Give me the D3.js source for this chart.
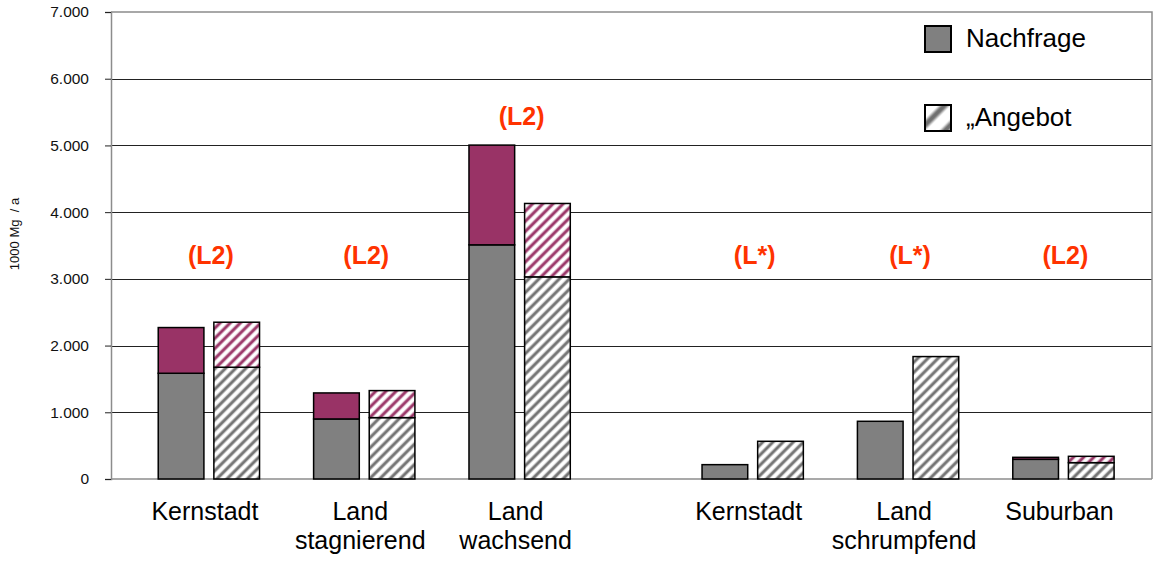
<!DOCTYPE html>
<html>
<head>
<meta charset="utf-8">
<script src="https://cdn.jsdelivr.net/npm/d3@7"></script>
<style>
  html, body { margin: 0; padding: 0; background: #fff; }
  svg { display: block; font-family: "Liberation Sans", Arial, sans-serif; }
</style>
</head>
<body>
<svg id="chart" width="1154" height="563"></svg>
<script>
// Category labels (split into lines) and the region class shown above each group
const categories = [
  ["Kernstadt"],
  ["Land", "stagnierend"],
  ["Land", "wachsend"],
  ["Kernstadt"],
  ["Land", "schrumpfend"],
  ["Suburban"]
];
const regionTags = ["(L2)", "(L2)", "(L2)", "(L*)", "(L*)", "(L2)"];

// Nachfrage: grey base part and purple upper part (1000 Mg / a)
const nachfrageBase  = [1585, 900, 3510, 215, 865, 295];
const nachfrageExtra = [685, 390, 1495, 0, 0, 30];
// Angebot: hatched grey base part and hatched purple upper part
const angebotBase  = [1675, 920, 3030, 565, 1835, 245];
const angebotExtra = [675, 405, 1100, 0, 0, 95];

const yTicks = [0, 1000, 2000, 3000, 4000, 5000, 6000, 7000];
const legendItems = ["Nachfrage", "\u201EAngebot"];

(function () {
  const svg = d3.select("#chart");
  const plotL = 111, plotR = 1152, plotT = 12, plotB = 479;

  const y = d3.scaleLinear().domain([0, 7000]).range([plotB, plotT]);
  // groups 4-6 are set apart from groups 1-3 by an extra half step
  const slot = i => i + (i >= 3 ? 0.5 : 0);
  const x = d3.scaleLinear().domain([-0.63, 6.07]).range([plotL, plotR]);
  const step = x(1) - x(0);
  const barW = step * 0.294;
  const innerGap = step * 0.064;

  const grey = "#808080", purple = "#993366", tagColor = "#FF3300";

  // hatch patterns
  const defs = svg.append("defs");
  function stripeGradient(id, color) {
    const g = defs.append("linearGradient").attr("id", id)
      .attr("x1", 0).attr("x2", 1).attr("y1", 0).attr("y2", 0);
    g.append("stop").attr("offset", "0%").attr("stop-color", "#fff");
    g.append("stop").attr("offset", "35%").attr("stop-color", color);
    g.append("stop").attr("offset", "65%").attr("stop-color", color);
    g.append("stop").attr("offset", "100%").attr("stop-color", "#fff");
  }
  stripeGradient("gradGrey", "#707070");
  stripeGradient("gradPurple", purple);
  function hatch(id, grad, size, stripe) {
    const p = defs.append("pattern").attr("id", id)
      .attr("patternUnits", "userSpaceOnUse")
      .attr("width", size).attr("height", size)
      .attr("patternTransform", "rotate(45)");
    p.append("rect").attr("width", size).attr("height", size).attr("fill", "#fff");
    p.append("rect").attr("x", 0).attr("width", stripe).attr("height", size)
      .attr("fill", `url(#${grad})`);
  }
  hatch("hatchGrey", "gradGrey", 7.2, 4.6);
  hatch("hatchPurple", "gradPurple", 7.2, 4.6);
  hatch("hatchLegend", "gradGrey", 18, 9);

  // gridlines
  svg.append("g").selectAll("line")
    .data(yTicks.filter(t => t > 0 && t < 7000))
    .join("line")
    .attr("x1", plotL).attr("x2", plotR)
    .attr("y1", d => Math.round(y(d)) + 0.5).attr("y2", d => Math.round(y(d)) + 0.5)
    .attr("stroke", "#222").attr("stroke-width", 1);

  // frame: top and right edges
  svg.append("path")
    .attr("d", `M${plotL},${plotT}H${plotR}V${plotB}`)
    .attr("fill", "none").attr("stroke", "#8c8c8c").attr("stroke-width", 1.5);

  // y axis
  const yAxis = d3.axisLeft(y).tickValues(yTicks).tickSize(6).tickPadding(16)
    .tickFormat(d => d === 0 ? "0" : d3.format(",")(d).replace(/,/g, "."));
  const gy = svg.append("g").attr("transform", `translate(${plotL},0)`).call(yAxis);
  gy.select(".domain").attr("stroke", "#8c8c8c").attr("stroke-width", 1.5);
  gy.selectAll(".tick line").attr("stroke", "#222");
  gy.selectAll(".tick text").attr("font-size", 15.5).attr("fill", "#111")
    .attr("font-family", "'Liberation Sans', Arial, sans-serif");

  // x baseline
  svg.append("line").attr("x1", plotL).attr("x2", plotR)
    .attr("y1", y(0)).attr("y2", y(0))
    .attr("stroke", "#8c8c8c").attr("stroke-width", 1.5);

  // y axis title
  svg.append("text")
    .attr("transform", `translate(19,234) rotate(-90)`)
    .attr("text-anchor", "middle")
    .attr("font-size", 13).attr("fill", "#111")
    .style("white-space", "pre")
    .text("1000 Mg  / a");

  // bars
  const groups = categories.map((c, i) => ({
    i, cx: x(slot(i)),
    n0: nachfrageBase[i], n1: nachfrageExtra[i],
    a0: angebotBase[i], a1: angebotExtra[i]
  }));

  const segs = [];
  groups.forEach(g => {
    const xn = g.cx - innerGap / 2 - barW, xa = g.cx + innerGap / 2;
    segs.push({ x: xn, lo: 0, hi: g.n0, fill: grey });
    if (g.n1 > 0) segs.push({ x: xn, lo: g.n0, hi: g.n0 + g.n1, fill: purple });
    segs.push({ x: xa, lo: 0, hi: g.a0, fill: "url(#hatchGrey)" });
    if (g.a1 > 0) segs.push({ x: xa, lo: g.a0, hi: g.a0 + g.a1, fill: "url(#hatchPurple)" });
  });

  svg.append("g").selectAll("rect").data(segs).join("rect")
    .attr("x", d => d.x).attr("width", barW)
    .attr("y", d => y(d.hi)).attr("height", d => y(d.lo) - y(d.hi))
    .attr("fill", d => d.fill)
    .attr("stroke", "#000").attr("stroke-width", 1.5);

  // region tags above groups
  svg.append("g").selectAll("text").data(groups).join("text")
    .attr("x", d => d.cx + 2)
    .attr("y", d => Math.min(y(3225), y(Math.max(d.n0 + d.n1, d.a0 + d.a1)) - 20))
    .attr("text-anchor", "middle")
    .attr("font-size", 25).attr("font-weight", "bold")
    .attr("fill", tagColor)
    .text(d => regionTags[d.i]);

  // category labels
  const cat = svg.append("g").selectAll("text").data(groups).join("text")
    .attr("text-anchor", "middle")
    .attr("font-size", 25).attr("fill", "#000");
  cat.each(function (d) {
    d3.select(this).selectAll("tspan").data(categories[d.i]).join("tspan")
      .attr("x", d.cx - 4)
      .attr("y", (l, k) => 520 + k * 29)
      .text(l => l);
  });

  // legend
  const legend = svg.append("g");
  const legendFill = [grey, "url(#hatchLegend)"];
  const legendY = [26, 105];
  legendItems.forEach((label, k) => {
    legend.append("rect")
      .attr("x", 925).attr("y", legendY[k])
      .attr("width", 26).attr("height", 26)
      .attr("fill", legendFill[k])
      .attr("stroke", "#000").attr("stroke-width", 2);
    legend.append("text")
      .attr("x", 966).attr("y", legendY[k] + 21)
      .attr("font-size", 26).attr("fill", "#000")
      .text(label);
  });
})();
</script>
</body>
</html>
